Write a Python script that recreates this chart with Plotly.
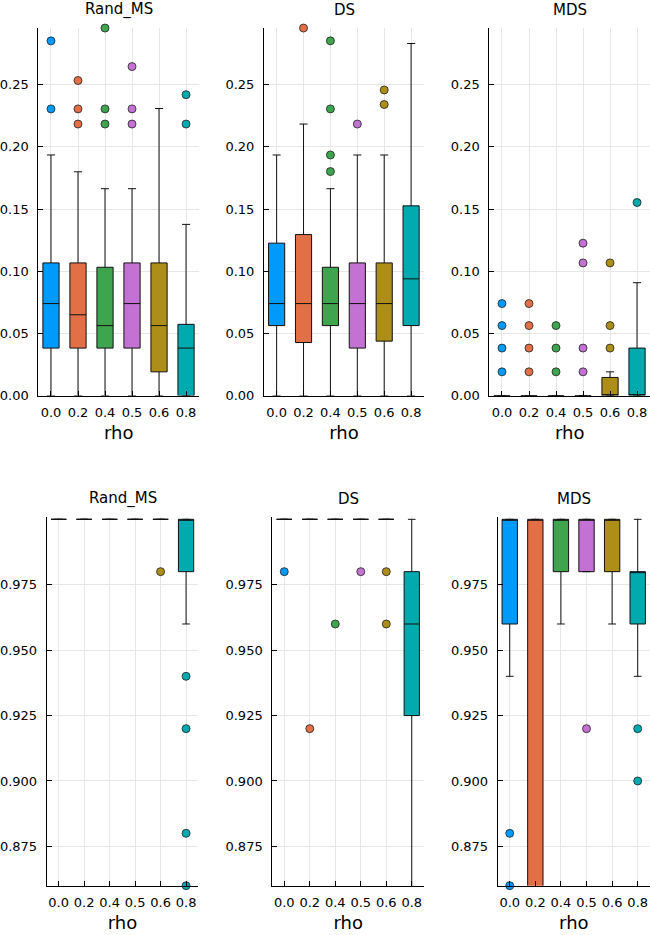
import plotly.graph_objects as go

rho_labels = ["0.0", "0.2", "0.4", "0.5", "0.6", "0.8"]
colors = ["#009AFA", "#E36F47", "#3EA44E", "#C371D2", "#AC8E18", "#00AAAE"]
panel_titles = ["Rand_MS", "DS", "MDS", "Rand_MS", "DS", "MDS"]
x_label = "rho"

# ---- top row ----
rand_top_q1 = [0.0382, 0.0382, 0.0382, 0.0382, 0.0191, 0.0]
rand_top_med = [0.0740, 0.0650, 0.0563, 0.0740, 0.0563, 0.0382]
rand_top_q3 = [0.1067, 0.1067, 0.1032, 0.1067, 0.1067, 0.0573]
rand_top_lo = [0.0, 0.0, 0.0, 0.0, 0.0, 0.0]
rand_top_hi = [0.1935, 0.1800, 0.1664, 0.1664, 0.2309, 0.1377]
rand_top_out = [[0.2306, 0.2853], [0.2184, 0.2306, 0.2534], [0.2184, 0.2306, 0.2956],
                [0.2184, 0.2306, 0.2646], [], [0.2184, 0.2420]]

ds_top_q1 = [0.0563, 0.0427, 0.0563, 0.0382, 0.0438, 0.0563]
ds_top_med = [0.0740, 0.0740, 0.0740, 0.0740, 0.0740, 0.0939]
ds_top_q3 = [0.1226, 0.1295, 0.1032, 0.1067, 0.1067, 0.1526]
ds_top_lo = [0.0, 0.0, 0.0, 0.0, 0.0, 0.0]
ds_top_hi = [0.1935, 0.2184, 0.1664, 0.1935, 0.1935, 0.2832]
ds_top_out = [[], [0.2956], [0.1802, 0.1935, 0.2306, 0.2853], [0.2184], [0.2341, 0.2458], []]

mds_top_q1 = [0.0, 0.0, 0.0, 0.0, 0.0, 0.0]
mds_top_med = [0.0, 0.0, 0.0, 0.0, 0.0, 0.0]
mds_top_q3 = [0.0, 0.0, 0.0, 0.0, 0.0146, 0.0382]
mds_top_lo = [0.0, 0.0, 0.0, 0.0, 0.0, 0.0]
mds_top_hi = [0.0, 0.0, 0.0, 0.0, 0.0191, 0.0908]
mds_top_out = [[0.0191, 0.0382, 0.0563, 0.0740], [0.0191, 0.0382, 0.0563, 0.0740],
               [0.0191, 0.0382, 0.0563], [0.0191, 0.0382, 0.1067, 0.1226],
               [0.0382, 0.0563, 0.1067], [0.1553]]

# ---- bottom row ----
rand_bot_q1 = [1.0, 1.0, 1.0, 1.0, 1.0, 0.98]
rand_bot_med = [1.0, 1.0, 1.0, 1.0, 1.0, 1.0]
rand_bot_q3 = [1.0, 1.0, 1.0, 1.0, 1.0, 1.0]
rand_bot_lo = [1.0, 1.0, 1.0, 1.0, 1.0, 0.96]
rand_bot_hi = [1.0, 1.0, 1.0, 1.0, 1.0, 1.0]
rand_bot_out = [[], [], [], [], [0.98], [0.94, 0.92, 0.88, 0.86]]

ds_bot_q1 = [1.0, 1.0, 1.0, 1.0, 1.0, 0.925]
ds_bot_med = [1.0, 1.0, 1.0, 1.0, 1.0, 0.96]
ds_bot_q3 = [1.0, 1.0, 1.0, 1.0, 1.0, 0.98]
ds_bot_lo = [1.0, 1.0, 1.0, 1.0, 1.0, 0.82]
ds_bot_hi = [1.0, 1.0, 1.0, 1.0, 1.0, 1.0]
ds_bot_out = [[0.98], [0.92], [0.96], [0.98], [0.98, 0.96], []]

mds_bot_q1 = [0.96, 0.80, 0.98, 0.98, 0.98, 0.96]
mds_bot_med = [1.0, 1.0, 1.0, 1.0, 1.0, 0.98]
mds_bot_q3 = [1.0, 1.0, 1.0, 1.0, 1.0, 0.98]
mds_bot_lo = [0.94, 0.72, 0.96, 0.98, 0.96, 0.94]
mds_bot_hi = [1.0, 1.0, 1.0, 1.0, 1.0, 1.0]
mds_bot_out = [[0.88, 0.86], [], [], [0.92], [], [0.92, 0.90]]

top_ticks = [0.0, 0.05, 0.10, 0.15, 0.20, 0.25]
bot_ticks = [0.875, 0.900, 0.925, 0.950, 0.975]

panels = [
    (rand_top_q1, rand_top_med, rand_top_q3, rand_top_lo, rand_top_hi, rand_top_out),
    (ds_top_q1, ds_top_med, ds_top_q3, ds_top_lo, ds_top_hi, ds_top_out),
    (mds_top_q1, mds_top_med, mds_top_q3, mds_top_lo, mds_top_hi, mds_top_out),
    (rand_bot_q1, rand_bot_med, rand_bot_q3, rand_bot_lo, rand_bot_hi, rand_bot_out),
    (ds_bot_q1, ds_bot_med, ds_bot_q3, ds_bot_lo, ds_bot_hi, ds_bot_out),
    (mds_bot_q1, mds_bot_med, mds_bot_q3, mds_bot_lo, mds_bot_hi, mds_bot_out),
]

W, H = 650, 935
# plot-area pixel boxes (left, right, top, bottom)
areas = [
    (38.3, 199.0, 28.3, 399.0),
    (264.0, 424.0, 28.3, 399.0),
    (489.3, 650.0, 28.3, 399.0),
    (46.7, 198.3, 521.7, 893.3),
    (272.3, 424.0, 521.7, 893.3),
    (497.7, 650.0, 521.7, 893.3),
]

FONT = "DejaVu Sans"
fig = go.Figure()
xpos = list(range(len(rho_labels)))

for p, (q1, med, q3, lo, hi, outs) in enumerate(panels):
    ax = "" if p == 0 else str(p + 1)
    for i in xpos:
        fig.add_trace(go.Box(
            x=[i], q1=[q1[i]], median=[med[i]], q3=[q3[i]],
            lowerfence=[lo[i]], upperfence=[hi[i]],
            width=0.6, whiskerwidth=0.5, boxpoints=False,
            fillcolor=colors[i], line=dict(color="#111111", width=1),
            xaxis="x" + ax, yaxis="y" + ax, showlegend=False, hoverinfo="skip",
        ))
    for i in xpos:
        if outs[i]:
            fig.add_trace(go.Scatter(
                x=[i] * len(outs[i]), y=outs[i], mode="markers",
                marker=dict(size=8, color=colors[i], line=dict(color="#222222", width=0.8)),
                cliponaxis=False, xaxis="x" + ax, yaxis="y" + ax, showlegend=False,
                hoverinfo="skip",
            ))

layout = dict(
    width=W, height=H, margin=dict(l=0, r=0, t=0, b=0),
    paper_bgcolor="white", plot_bgcolor="white", boxmode="overlay",
    font=dict(family=FONT, color="#000000", size=13),
    annotations=[],
)
for p, (l, r, t, b) in enumerate(areas):
    ax = "" if p == 0 else str(p + 1)
    top = p < 3
    layout["xaxis" + ax] = dict(
        domain=[l / W, min(r / W, 1.0)], anchor="y" + ax,
        range=[-0.47, 5.48], tickvals=xpos, ticktext=rho_labels,
        showline=True, linecolor="#000000", linewidth=1, mirror=False,
        ticks="inside", ticklen=5, tickcolor="#000000",
        showgrid=True, gridcolor="#e6e6e6", gridwidth=1, zeroline=False,
        tickfont=dict(size=13, family=FONT), ticklabelstandoff=5,
        title=dict(text=x_label, font=dict(size=18, family=FONT), standoff=7),
    )
    layout["yaxis" + ax] = dict(
        domain=[1 - b / H, 1 - t / H], anchor="x" + ax,
        range=[0.0, 0.2956] if top else [0.86, 1.0008],
        tickvals=top_ticks if top else bot_ticks,
        tickformat=".2f" if top else ".3f",
        showline=True, linecolor="#000000", linewidth=1, mirror=False,
        ticks="inside", ticklen=5, tickcolor="#000000",
        showgrid=True, gridcolor="#e6e6e6", gridwidth=1, zeroline=False,
        tickfont=dict(size=13, family=FONT), ticklabelstandoff=6,
    )
    layout["annotations"].append(dict(
        text=panel_titles[p], x=(l + min(r, W)) / 2 / W, y=1 - (t - 18.5) / H,
        xref="paper", yref="paper", showarrow=False, xanchor="center", yanchor="middle",
        font=dict(size=15, family=FONT, color="#000000"),
    ))

fig.update_layout(**layout)
fig.write_html("out.html")
